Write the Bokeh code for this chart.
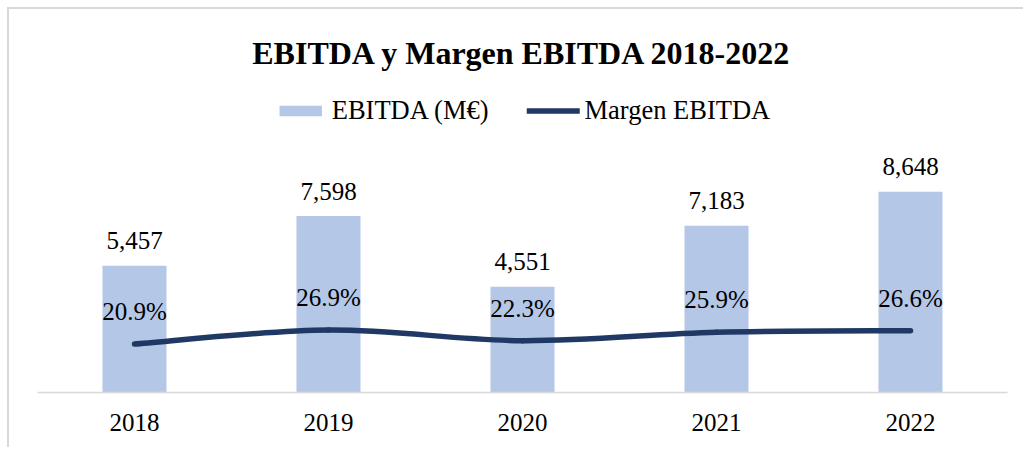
from bokeh.plotting import figure
from bokeh.models import (ColumnDataSource, Range1d, FactorRange, LabelSet,
                          Legend, LegendItem)
from bokeh.embed import file_html
from bokeh.resources import INLINE

years = ["2018", "2019", "2020", "2021", "2022"]
ebitda = [5457, 7598, 4551, 7183, 8648]
margen = [20.9, 26.9, 22.3, 25.9, 26.6]

FONT = "Liberation Serif"
BAR_COLOR = "#b4c7e7"
LINE_COLOR = "#203864"

src = ColumnDataSource(dict(
    x=years, y=ebitda, m=margen,
    ylab=[f"{v:,}" for v in ebitda],
    mlab=[f"{v:.1f}%" for v in margen],
))

p = figure(width=1016, height=440, x_range=FactorRange(*years),
           y_range=Range1d(0, 13650), output_backend="svg",
           toolbar_location=None, y_axis_location=None,
           min_border_left=30, min_border_right=16,
           min_border_top=68, min_border_bottom=55)
p.extra_y_ranges = {"pct": Range1d(0, 136.5)}
p.border_fill_alpha = 0
p.background_fill_alpha = 0
p.styles = {"margin-left": "7px", "margin-top": "7px",
            "box-shadow": "inset 2px 2px 0 0 #d9d9d9"}

p.title.text = "EBITDA y Margen EBITDA 2018-2022"
p.title.align = "center"
p.title.text_font = FONT
p.title.text_font_size = "32px"
p.title.text_font_style = "bold"
p.title.text_color = "black"

p.outline_line_color = None
p.xgrid.visible = False
p.ygrid.visible = False

bars = p.vbar(x="x", top="y", width=0.33, source=src, fill_color=BAR_COLOR,
              line_color=None)

# smoothed line (Bezier through the data points, Catmull-Rom style)
n = len(years)
idx = list(range(n))
def pt(i):
    i = max(0, min(n - 1, i))
    return idx[i], margen[i]
x0, y0, x1, y1, cx0, cy0, cx1, cy1 = [], [], [], [], [], [], [], []
for i in range(n - 1):
    xa, ya = pt(i)
    xb, yb = pt(i + 1)
    xp, yp = pt(i - 1)
    xn, yn = pt(i + 2)
    x0.append(years[i]); y0.append(ya)
    x1.append(years[i + 1]); y1.append(yb)
    cx0.append((years[i], (xb - xp) / 6)); cy0.append(ya + (yb - yp) / 6)
    cx1.append((years[i + 1], -(xn - xa) / 6)); cy1.append(yb - (yn - ya) / 6)
bsrc = ColumnDataSource(dict(x0=x0, y0=y0, x1=x1, y1=y1,
                             cx0=cx0, cy0=cy0, cx1=cx1, cy1=cy1))
curve = p.bezier(x0="x0", y0="y0", x1="x1", y1="y1", cx0="cx0", cy0="cy0",
                 cx1="cx1", cy1="cy1", source=bsrc, line_color=LINE_COLOR,
                 line_width=5.5, line_cap="round", y_range_name="pct")

bl = LabelSet(x="x", y="y", text="ylab", source=src, text_align="center",
              text_baseline="alphabetic", y_offset=16.5, text_font=FONT,
              text_font_size="25px", text_color="black")
ml = LabelSet(x="x", y="m", text="mlab", source=src, text_align="center",
              text_baseline="alphabetic", y_offset=24, text_font=FONT,
              text_font_size="25px", text_color="black", y_range_name="pct")
p.add_layout(bl)
p.add_layout(ml)

legend = Legend(items=[LegendItem(label="EBITDA (M€)", renderers=[bars]),
                       LegendItem(label="Margen EBITDA", renderers=[curve])],
                location="top_center", orientation="horizontal",
                glyph_width=53, glyph_height=13, label_standoff=5, spacing=38,
                padding=0, margin=20, label_text_font=FONT,
                label_text_font_size="26.5px", label_text_color="black",
                label_height=28,
                border_line_alpha=0, background_fill_alpha=0)
p.add_layout(legend)

ax = p.xaxis[0]
ax.axis_line_color = "#d9d9d9"
ax.axis_line_width = 1.5
ax.major_tick_line_color = None
ax.minor_tick_line_color = None
ax.major_label_text_font = FONT
ax.major_label_text_font_size = "25px"
ax.major_label_text_color = "black"
ax.major_label_standoff = 15

open("out.html", "w").write(file_html(p, INLINE))
